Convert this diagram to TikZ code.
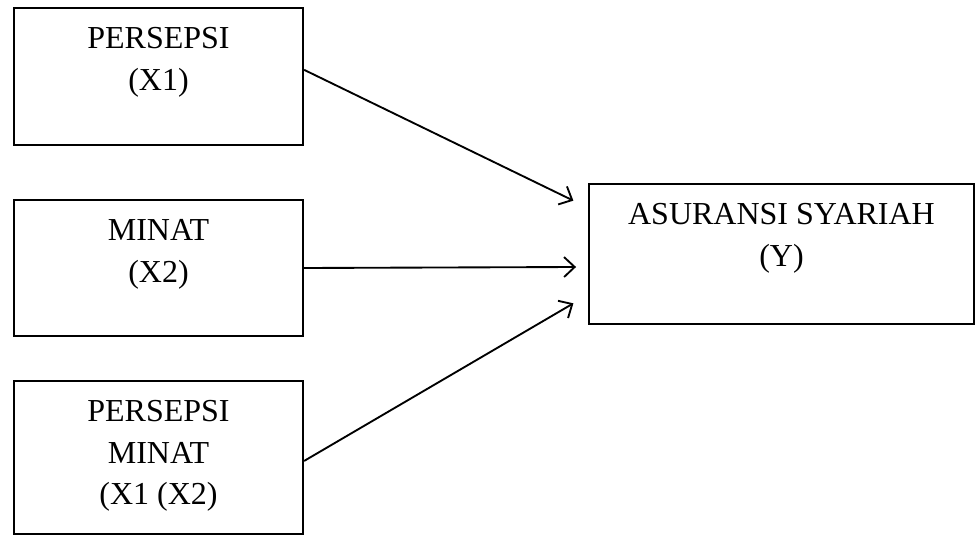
\documentclass[tikz,border=0pt]{standalone}
\usepackage{fontspec}
\setmainfont{Liberation Serif}
\usetikzlibrary{positioning,arrows.meta}

\begin{document}
\begin{tikzpicture}[
			x=0.75pt, y=-0.75pt,
			font=\fontsize{24}{31}\selectfont,
			var/.style = {draw, line width=1.4pt, rectangle, inner sep=0pt},
			txt/.style = {anchor=north, align=center, yshift=-12pt},
			arr/.style = {line width=1.4pt, -{Straight Barb[length=8pt, width=15pt, line width=1.4pt]}}
		]
		\useasboundingbox (0,0) rectangle (979,535);
		% Independent variables.
		\node[var, minimum width=217pt, minimum height=102.75pt,
			label={[txt]north:{PERSEPSI\\(X1)}}] (x1) at (158.5,76.5) {};
		\node[var, minimum width=217pt, minimum height=102pt,
			label={[txt]north:{MINAT\\(X2)}}] (x2) at (158.5,268) {};
		\node[var, minimum width=217pt, minimum height=114.75pt,
			label={[txt]north:{PERSEPSI\\MINAT\\(X1 (X2)}}] (x12) at (158.5,457.5) {};
		% Dependent variable.
		\node[var, minimum width=288.75pt, minimum height=105pt,
			label={[txt]north:{ASURANSI SYARIAH\\(Y)}}] (y) at (781.5,254) {};

		\draw[arr] ([yshift=5pt]x1.east) to ([xshift=-11pt, yshift=40pt]y.west);
		\draw[arr] (x2.east) to ([xshift=-9pt, yshift=-9.75pt]y.west);
		\draw[arr] ([yshift=-2.6pt]x12.east) to ([xshift=-11pt, yshift=-37pt]y.west);
	\end{tikzpicture}
\end{document}
